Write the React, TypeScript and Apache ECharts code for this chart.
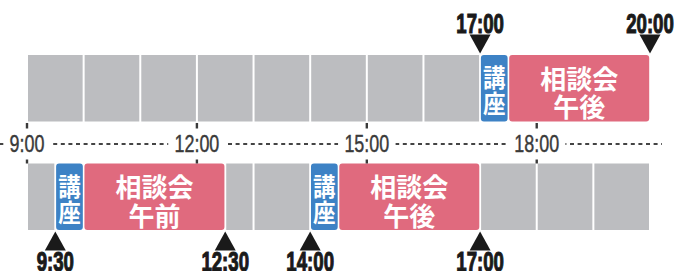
import React, { useEffect, useRef } from 'react';
import * as echarts from 'echarts';

const rows = ['upper', 'lower'];

const freeRow = [0, 0, 0, 0, 0, 0, 0, 0, 1, 1, 1, 1, 1, 1];
const freeStart = [9, 10, 11, 12, 13, 14, 15, 16, 9, 12.5, 13, 17, 18, 19];
const freeEnd = [10, 11, 12, 13, 14, 15, 16, 17, 9.5, 13, 14, 18, 19, 20];

const eventRow = [0, 0, 1, 1, 1, 1];
const eventStart = [17, 17.5, 9.5, 10, 14, 14.5];
const eventEnd = [17.5, 20, 10, 12.5, 14.5, 17];
const eventKind = ['lecture', 'consult', 'lecture', 'consult', 'lecture', 'consult'];
const eventLabel = ['講\n座', '相談会\n午後', '講\n座', '相談会\n午前', '講\n座', '相談会\n午後'];

const markerRow = [0, 0, 1, 1, 1, 1];
const markerTime = [17, 20, 9.5, 12.5, 14, 17];
const markerLabel = ['17:00', '20:00', '9:30', '12:30', '14:00', '17:00'];

const tickValues = [9, 12, 15, 18];
const tickLabels = ['9:00', '12:00', '15:00', '18:00'];

const GREY = '#bcbdc0';
const BLUE = '#3d82c5';
const PINK = '#e06a7e';
const SANS = "'Liberation Sans', Arial, sans-serif";
const CJK = "'Noto Sans CJK JP', 'Noto Sans CJK SC', sans-serif";
const ROW_RATIO = 0.613;

function rowGeom(api: any, t: number, row: number) {
  const p = api.coord([t, row]);
  const band = api.size([0, 1])[1];
  const h = band * ROW_RATIO;
  return { x: p[0], cy: p[1], top: p[1] - h / 2, bottom: p[1] + h / 2, h };
}

export default function App() {
  const ref = useRef<HTMLDivElement>(null);
  useEffect(() => {
    document.body.style.margin = '0';
    if (!ref.current) return;
    const chart = echarts.init(ref.current, undefined, { renderer: 'svg' });
    const option: any = {
      animation: false,
      grid: { left: 27, right: 24, top: 34, height: 217 },
      xAxis: { type: 'value', min: 9, max: 20, show: false },
      yAxis: { type: 'category', data: rows, inverse: true, show: false },
      graphic: [
        {
          type: 'line',
          z: 0,
          shape: { x1: 0, y1: 144, x2: 662, y2: 144 },
          style: { stroke: '#444', lineWidth: 2, lineDash: [4, 3.6] },
        },
      ],
      series: [
        {
          type: 'custom',
          z: 2,
          encode: { x: [0, 1], y: 2 },
          data: freeStart.map((s, i) => [s, freeEnd[i], freeRow[i]]),
          renderItem: (params: any, api: any) => {
            const a = rowGeom(api, api.value(0), api.value(2));
            const b = rowGeom(api, api.value(1), api.value(2));
            return {
              type: 'rect',
              shape: { x: a.x + 1, y: a.top, width: b.x - a.x - 2, height: a.h },
              style: { fill: GREY },
            };
          },
        },
        {
          type: 'custom',
          z: 3,
          encode: { x: [0, 1], y: 2 },
          data: eventStart.map((s, i) => [s, eventEnd[i], eventRow[i]]),
          renderItem: (params: any, api: any) => {
            const i = params.dataIndex;
            const a = rowGeom(api, api.value(0), api.value(2));
            const b = rowGeom(api, api.value(1), api.value(2));
            const lecture = eventKind[i] === 'lecture';
            return {
              type: 'group',
              children: [
                {
                  type: 'rect',
                  shape: { x: a.x + 0.8, y: a.top, width: b.x - a.x - 1.6, height: a.h, r: 3 },
                  style: { fill: lecture ? BLUE : PINK },
                },
                {
                  type: 'text',
                  x: (a.x + b.x) / 2,
                  y: a.cy + (lecture ? 1 : 3),
                  scaleX: lecture ? 0.9 : 1,
                  style: {
                    text: eventLabel[i],
                    fill: '#fff',
                    fontFamily: CJK,
                    fontWeight: 'bold',
                    fontSize: lecture ? 25 : 26,
                    lineHeight: lecture ? 26 : 28.5,
                    align: 'center',
                    verticalAlign: 'middle',
                  },
                },
              ],
            };
          },
        },
        {
          type: 'custom',
          z: 4,
          encode: { x: 0, y: 1 },
          data: markerTime.map((t, i) => [t, markerRow[i]]),
          renderItem: (params: any, api: any) => {
            const i = params.dataIndex;
            const g = rowGeom(api, api.value(0), api.value(1));
            const up = markerRow[i] === 0;
            const x = g.x;
            const apex = up ? g.top - 1.5 : g.bottom + 1.5;
            const base = up ? apex - 19 : apex + 19;
            const ly = up ? g.top - 31.5 : g.bottom + 32;
            return {
              type: 'group',
              children: [
                {
                  type: 'polygon',
                  shape: { points: [[x, apex], [x - 10.5, base], [x + 10.5, base]] },
                  style: { fill: '#1a1a1a' },
                },
                {
                  type: 'text',
                  x,
                  y: ly,
                  scaleX: 0.69,
                  style: {
                    text: markerLabel[i],
                    fill: '#1a1a1a',
                    stroke: '#1a1a1a',
                    lineWidth: 1.1,
                    fontFamily: SANS,
                    fontWeight: 'bold',
                    fontSize: 27,
                    align: 'center',
                    verticalAlign: 'middle',
                  },
                },
              ],
            };
          },
        },
        {
          type: 'custom',
          z: 5,
          encode: { x: 0 },
          data: tickValues.map((v) => [v, 0]),
          renderItem: (params: any, api: any) => {
            const i = params.dataIndex;
            const r0 = rowGeom(api, api.value(0), 0);
            const r1 = rowGeom(api, api.value(0), 1);
            const x = r0.x;
            const mid = (r0.bottom + r1.top) / 2 + 1.5;
            return {
              type: 'group',
              children: [
                {
                  type: 'line',
                  shape: { x1: x, y1: r0.bottom + 1.5, x2: x, y2: r1.top },
                  style: { stroke: '#3a3a3a', lineWidth: 2.4 },
                },
                {
                  type: 'text',
                  x,
                  y: mid,
                  scaleX: 0.78,
                  style: {
                    text: tickLabels[i],
                    fill: '#3a3a3a',
                    stroke: '#3a3a3a',
                    lineWidth: 0.4,
                    fontFamily: SANS,
                    fontSize: 23,
                    align: 'center',
                    verticalAlign: 'middle',
                    backgroundColor: '#fff',
                    padding: [4, 8],
                  },
                },
              ],
            };
          },
        },
      ],
    };
    chart.setOption(option);
    return () => chart.dispose();
  }, []);
  return (
    <div
      ref={ref}
      style={{ position: 'fixed', left: 0, top: 0, width: 674, height: 271, background: '#fff' }}
    />
  );
}
